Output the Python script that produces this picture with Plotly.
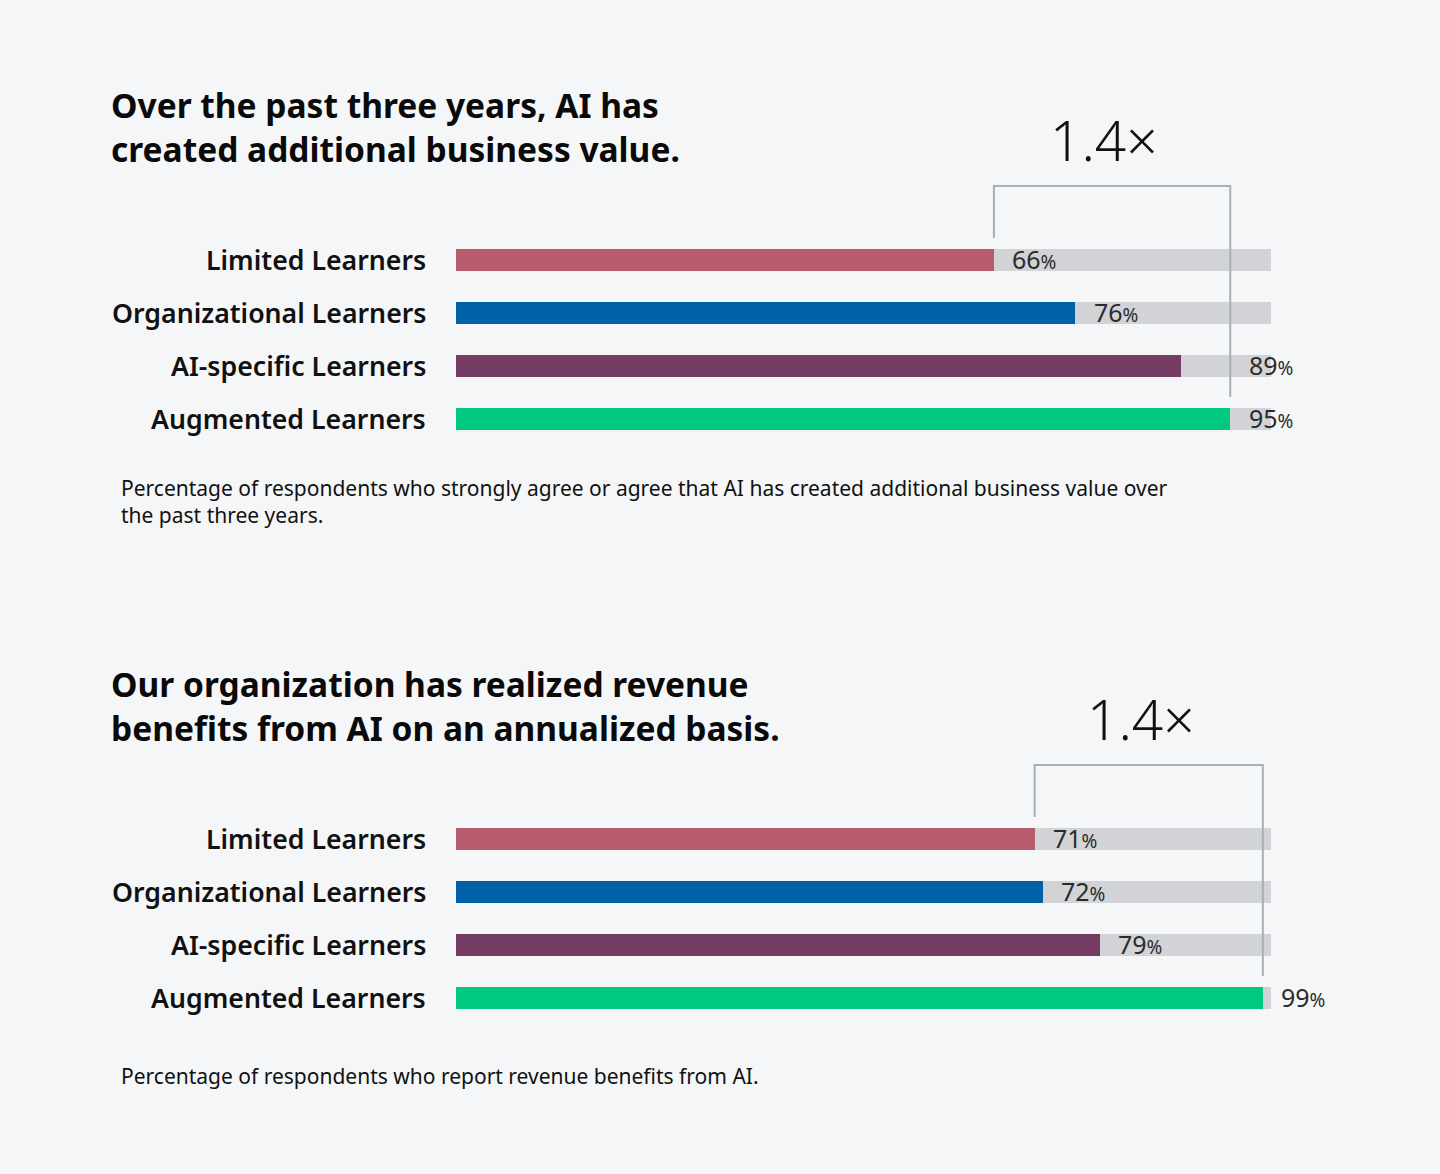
import plotly.graph_objects as go

# ---------------- data ----------------
categories = ["Limited Learners", "Organizational Learners", "AI-specific Learners", "Augmented Learners"]
values_business = [66, 76, 89, 95]
values_revenue = [71, 72, 79, 99]
title_business = "Over the past three years, AI has<br>created additional business value."
title_revenue = "Our organization has realized revenue<br>benefits from AI on an annualized basis."
note_business = ("Percentage of respondents who strongly agree or agree that AI has created additional business value over"
                 "<br>the past three years.")
note_revenue = "Percentage of respondents who report revenue benefits from AI."
bar_colors = ["#B75B6D", "#0061A8", "#743B63", "#00C97F"]
TRACK = "#D1D3D7"
BRACKET = "#A7AFB8"
BG = "#F5F6F8"
FONT = "Noto Sans"

W, H = 1440, 1174
ROW = 53.0           # px per row
BARW = 0.415         # bar thickness in row units
X0, PXU = 456.0, 8.15  # x pixel of value 0, pixels per percent
XMAX = 112


def py(p):
    return 1 - p / H


panels = [
    dict(vals=values_business, title=title_business, note=note_business,
         row0=259, title_y=127, note_y=501, ratio_y=140, yaxis="y"),
    dict(vals=values_revenue, title=title_revenue, note=note_revenue,
         row0=838, title_y=706, note_y=1076, ratio_y=718, yaxis="y2"),
]

fig = go.Figure()
annotations = []
shapes = []
layout_axes = {}

for k, p in enumerate(panels):
    yname = p["yaxis"]
    yref = yname
    ypos = list(range(len(categories)))
    vals = p["vals"]
    fig.add_trace(go.Bar(x=[100] * len(categories), y=ypos, orientation="h",
                         marker=dict(color=TRACK, line=dict(width=0)), width=BARW,
                         xaxis="x", yaxis=yname, hoverinfo="skip", showlegend=False))
    fig.add_trace(go.Bar(x=vals, y=ypos, orientation="h",
                         marker=dict(color=bar_colors, line=dict(width=0)), width=BARW,
                         xaxis="x", yaxis=yname, hoverinfo="skip", showlegend=False))
    top_px = p["row0"] - 1.5 * ROW
    bot_px = p["row0"] + 3.5 * ROW
    layout_axes["yaxis" + ("" if k == 0 else "2")] = dict(
        domain=[py(bot_px), py(top_px)], range=[3.5, -1.5], visible=False,
        anchor="x", fixedrange=True)

    lo, hi = vals[0], vals[-1]
    gap = 10 / ROW
    y_left = -BARW / 2 - gap
    y_top = -BARW / 2 - 62 / ROW
    y_right = len(categories) - 1 - BARW / 2 - gap
    shapes.append(dict(type="path", xref="x", yref=yref,
                       path=f"M {lo},{y_left} L {lo},{y_top} L {hi},{y_top} L {hi},{y_right}",
                       line=dict(color=BRACKET, width=2)))

    annotations.append(dict(text=f"{hi / lo:.1f}×", x=(lo + hi) / 2 - 1.0, xref="x",
                            y=py(p["ratio_y"]), yref="paper", xanchor="center", yanchor="middle",
                            showarrow=False, font=dict(family=FONT, size=55, color="#111111", weight=300)))

    for i, v in enumerate(vals):
        lx = v + 2
        if v < hi and v + 8 > hi:
            lx = hi + 2
        annotations.append(dict(text=f"{v}<span style='font-size:19px'>%</span>", x=lx, xref="x",
                                y=i, yref=yref, xanchor="left", yanchor="middle", showarrow=False,
                                font=dict(family=FONT, size=25, color="#2B2B2B")))
        annotations.append(dict(text=categories[i], x=428 / W, xref="paper", y=i, yref=yref,
                                xanchor="right", yanchor="middle", showarrow=False,
                                font=dict(family=FONT, size=26.7, color="#111111", weight=600)))

    annotations.append(dict(text=p["title"], x=109 / W, xref="paper", y=py(p["title_y"]), yref="paper",
                            xanchor="left", yanchor="middle", align="left", showarrow=False,
                            font=dict(family=FONT, size=33.5, color="#0A0A0A", weight=700)))
    annotations.append(dict(text=p["note"], x=119 / W, xref="paper", y=py(p["note_y"]), yref="paper",
                            xanchor="left", yanchor="middle", align="left", showarrow=False,
                            font=dict(family=FONT, size=21, color="#111111")))

fig.update_layout(
    width=W, height=H, margin=dict(l=0, r=0, t=0, b=0),
    paper_bgcolor=BG, plot_bgcolor=BG, barmode="overlay", bargap=0,
    xaxis=dict(domain=[X0 / W, (X0 + PXU * XMAX) / W], range=[0, XMAX], visible=False, fixedrange=True),
    annotations=annotations, shapes=shapes, showlegend=False,
    **layout_axes,
)

fig.write_html("out.html", config={"displayModeBar": False},
               post_script="document.body.style.margin='0';document.body.style.background='#F5F6F8';"
                           "document.documentElement.style.overflow='hidden';")
